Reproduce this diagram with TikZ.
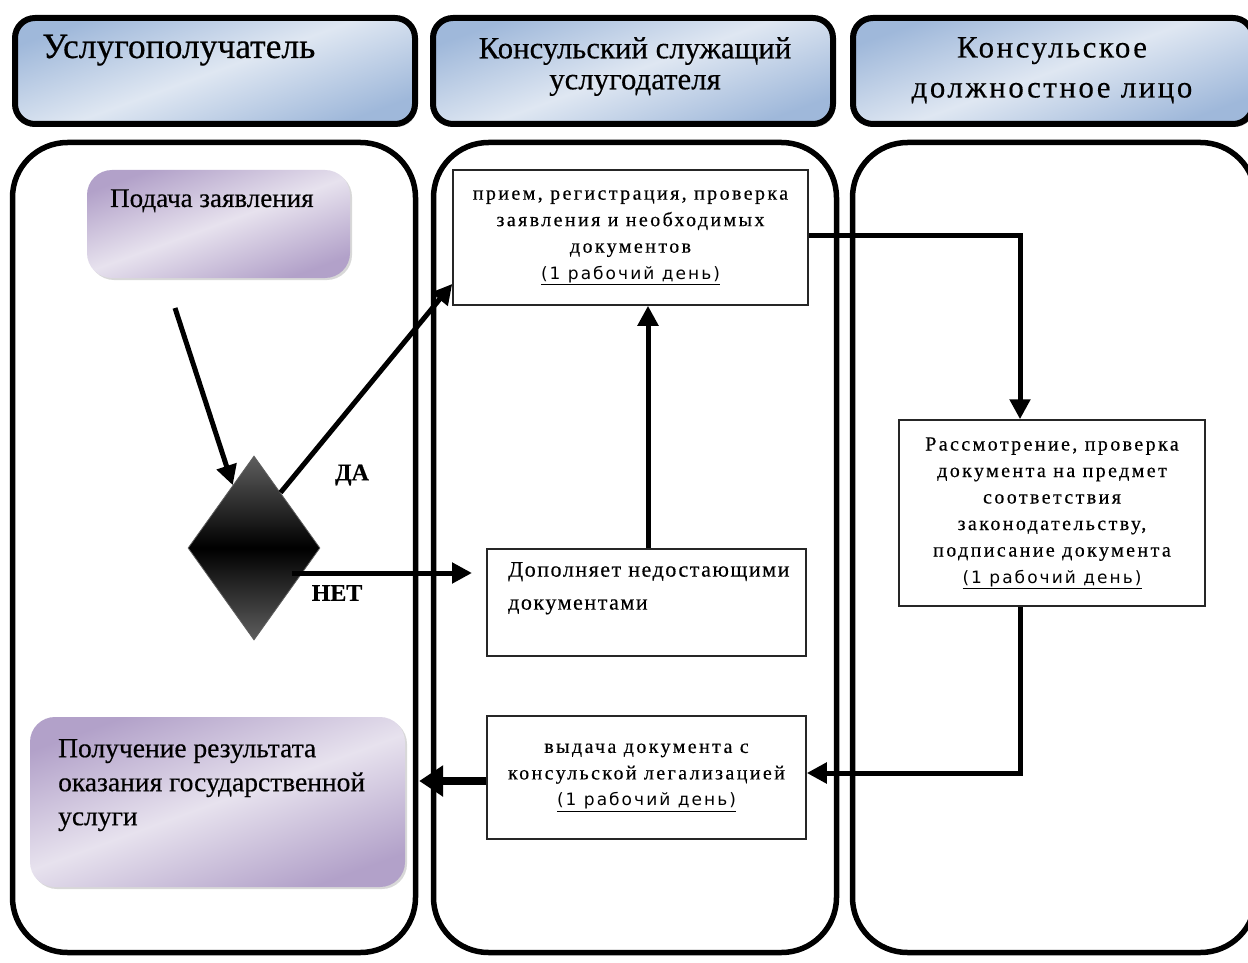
\documentclass[tikz,border=0pt]{standalone}
\usepackage{fontspec}
\setmainfont[FakeBold=0.4]{Liberation Serif}
\newfontfamily\boxfont[LetterSpace=12,FakeBold=0.4]{Liberation Serif}
\newfontfamily\boxfontb[LetterSpace=7,FakeBold=0.4]{Liberation Serif}
\newfontfamily\hdrfont[LetterSpace=8,FakeBold=0.4]{Liberation Serif}
\newfontfamily\dayfont[LetterSpace=12]{DejaVu Sans}
\usetikzlibrary{arrows.meta,shapes.geometric,shadows,calc}
\definecolor{hdrA}{HTML}{9FB8DA}
\definecolor{hdrB}{HTML}{DFE7F2}
\definecolor{purA}{HTML}{B2A1C9}
\definecolor{purB}{HTML}{E7E2EE}
\definecolor{dgrey}{HTML}{5E5E5E}
\begin{document}
\begin{tikzpicture}[x=1pt,y=-1pt,
  hdr/.style={draw=black, line width=6pt, rounded corners=20pt,
    top color=hdrA, bottom color=hdrA, middle color=hdrB, shading angle=20,
    minimum width=400pt, minimum height=106pt, inner sep=0pt,
    drop shadow={opacity=0.35, shadow xshift=2pt, shadow yshift=-3pt}},
  lane/.style={draw=black, line width=5.5pt, rounded corners=55pt,
    minimum width=403pt, minimum height=810pt, inner sep=0pt},
  stepbox/.style={draw=black!85, line width=1.5pt, fill=white, inner sep=0pt, align=center,
    font=\boxfont\fontsize{20}{26.5}\selectfont},
  purp/.style={rounded corners=25pt, top color=purA, bottom color=purA, middle color=purB,
    shading angle=20, inner sep=0pt,
    drop shadow={opacity=0.3, shadow xshift=2pt, shadow yshift=-2pt}},
  hdrtext/.style={inner sep=0pt, align=center},
  arr/.style={line width=5pt, -{Triangle[length=20pt,width=20pt]}},
  bigarr/.style={line width=8pt, -{Triangle[length=24pt,width=30pt]}},
  lbl/.style={inner sep=0pt, font=\bfseries\fontsize{24}{24}\selectfont}
]
\useasboundingbox (0,0) rectangle (1248,963);
\fill[white] (0,0) rectangle (1248,963);

% headers
\node[hdr] (h1) at (215,71) {};
\node[hdr] (h2) at (633,71) {};
\node[hdr] (h3) at (1053,71) {};
\node[hdrtext, anchor=base west, font=\fontsize{35.5}{35.5}\selectfont] (t1) at (42,58) {Услугополучатель};
\node[hdrtext, anchor=north, font=\fontsize{30.8}{31}\selectfont] (t2) at (635,37) {Консульский служащий\\услугодателя};
\node[hdrtext, anchor=north, font=\hdrfont\fontsize{31}{40}\selectfont] (t3) at (1052,37) {Консульское\\должностное лицо};

% lanes
\node[lane] (l1) at (214,547.5) {};
\node[lane] (l2) at (635,547.5) {};
\node[lane] (l3) at (1054,547.5) {};

% left lane
\node[purp, minimum width=263pt, minimum height=108pt] (p1) at (218.5,224) {};
\node[inner sep=0pt, anchor=base west, font=\fontsize{27}{27}\selectfont] (p1t) at (110,207) {Подача заявления};
\node[purp, minimum width=375pt, minimum height=170pt] (p2) at (217.5,802) {};
\node[inner sep=0pt, anchor=north west, align=left, font=\fontsize{27.5}{34}\selectfont] (p2t) at (58,739)
  {Получение результата\\оказания государственной\\услуги};
\node[diamond, aspect=0.72, minimum width=132pt, minimum height=184pt, inner sep=0pt,
  draw=dgrey, line width=0.8pt, top color=dgrey, bottom color=dgrey, middle color=black] (d) at (254,548) {};

% middle lane
\node[stepbox, minimum width=355pt, minimum height=135pt] (b1) at (630.5,237.5)
  {прием, регистрация, проверка\\заявления и необходимых\\документов\\{\dayfont\fontsize{17}{26.5}\selectfont\underline{(1 рабочий день)}}};
\node[stepbox, minimum width=319pt, minimum height=107pt] (b2) at (646.5,602.5) {};
\node[inner sep=0pt, anchor=north west, align=left, font=\boxfontb\fontsize{22}{33}\selectfont] (b2t) at (508,562)
  {Дополняет недостающими\\документами};
\node[stepbox, minimum width=319pt, minimum height=123pt] (b4) at (646.5,777.5)
  {выдача документа с\\консульской легализацией\\{\dayfont\fontsize{17}{27.5}\selectfont\underline{(1 рабочий день)}}};

% right lane
\node[stepbox, minimum width=306pt, minimum height=186pt] (b3) at (1052,513)
  {Рассмотрение, проверка\\документа на предмет\\соответствия\\законодательству,\\подписание документа\\{\dayfont\fontsize{17}{26.5}\selectfont\underline{(1 рабочий день)}}};

% labels
\node[lbl] (da) at (352,475) {ДА};
\node[lbl] (net) at (337,593) {НЕТ};

% connectors
\coordinate (start) at (175,308);
\coordinate (netend) at (472,573);
\draw[arr] (start) -- ($(d.west)!0.68!(d.north)$);
\draw[arr] ($(d.north)!0.4!(d.east)$) -- ($(b1.south west)!0.16!(b1.north west)$);
\draw[arr] ($(d.center)+(38,25)$) -- (netend);
\draw[arr] ([xshift=1.5pt]b2.north) -- ([xshift=1.5pt]b2.north |- b1.south);
\draw[arr] ([yshift=2.5pt]b1.east) -| ([xshift=-32pt]b3.north);
\draw[arr] ([xshift=-32pt]b3.south) |- ([yshift=4.5pt]b4.east);
\draw[bigarr, shorten >=14pt] ([yshift=-3.5pt]b4.west) -- ([yshift=-3.5pt]b4.west -| p2.east);
\end{tikzpicture}
\end{document}
